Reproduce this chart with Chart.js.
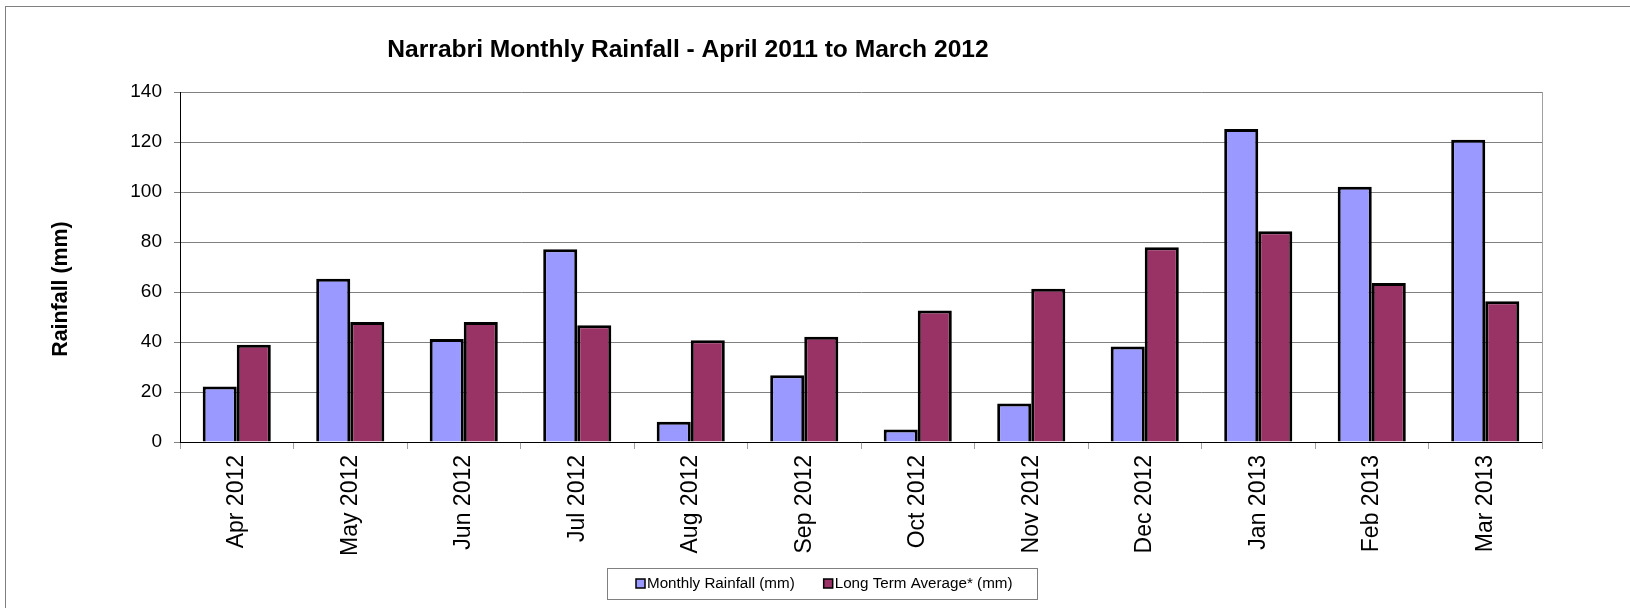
<!DOCTYPE html>
<html>
<head>
<meta charset="utf-8">
<script src="https://cdn.jsdelivr.net/npm/chart.js@4.4.1/dist/chart.umd.min.js"></script>
<style>
  html, body { margin: 0; padding: 0; background: #fff; }
  #wrap { width: 1630px; height: 608px; position: relative; }
</style>
</head>
<body>
<div id="wrap"><canvas id="c" width="1630" height="608"></canvas></div>
<script>
const chartTitle = 'Narrabri Monthly Rainfall - April 2011 to March 2012';
const yAxisTitle = 'Rainfall (mm)';
const categories = ['Apr 2012', 'May 2012', 'Jun 2012', 'Jul 2012', 'Aug 2012', 'Sep 2012',
                    'Oct 2012', 'Nov 2012', 'Dec 2012', 'Jan 2013', 'Feb 2013', 'Mar 2013'];
const monthlyRainfall = [22.2, 65.3, 41.2, 77.1, 8.1, 26.7, 5.0, 15.4, 38.2, 125.2, 102.1, 120.9];
const longTermAverage = [38.9, 48.0, 48.0, 46.7, 40.7, 42.1, 52.6, 61.3, 77.9, 84.3, 63.6, 56.3];
const seriesNames = ['Monthly Rainfall (mm)', 'Long Term Average* (mm)'];
const yMin = 0, yMax = 140, yStep = 20;

const FONT = '"Liberation Sans", Arial, sans-serif';

const decorPlugin = {
  id: 'decor',
  beforeDraw(chart) {
    const ctx = chart.ctx;
    ctx.save();
    ctx.fillStyle = '#fff';
    ctx.fillRect(0, 0, chart.width, chart.height);
    ctx.strokeStyle = '#808080';
    ctx.lineWidth = 1;
    ctx.strokeRect(5.5, 6.5, chart.width + 20, chart.height + 20);
    ctx.restore();
  },
  afterDraw(chart) {
    const ctx = chart.ctx;
    const a = chart.chartArea;
    ctx.save();
    // right plot border
    ctx.strokeStyle = '#a0a0a0';
    ctx.lineWidth = 1;
    ctx.beginPath();
    ctx.moveTo(Math.round(a.right) + 0.5, a.top);
    ctx.lineTo(Math.round(a.right) + 0.5, a.bottom + 7);
    ctx.stroke();
    // title
    ctx.fillStyle = '#000';
    ctx.font = 'bold 24.6px ' + FONT;
    ctx.textAlign = 'center';
    ctx.textBaseline = 'alphabetic';
    ctx.fillText(chartTitle, 688, 57);
    // y axis title
    ctx.save();
    ctx.translate(61, 289);
    ctx.rotate(-Math.PI / 2);
    ctx.font = 'bold 21.4px ' + FONT;
    ctx.textBaseline = 'middle';
    ctx.fillText(yAxisTitle, 0, 0);
    ctx.restore();
    // legend
    ctx.strokeStyle = '#808080';
    ctx.lineWidth = 1;
    ctx.strokeRect(607.5, 568.5, 430, 31);
    ctx.font = '15.2px ' + FONT;
    ctx.textAlign = 'left';
    ctx.textBaseline = 'middle';
    let x = 636;
    const cy = 584;
    chart.data.datasets.forEach((ds) => {
      ctx.fillStyle = ds.backgroundColor;
      ctx.fillRect(x, cy - 5, 9, 9);
      ctx.strokeStyle = '#000';
      ctx.lineWidth = 1.5;
      ctx.strokeRect(x, cy - 5, 9, 9);
      ctx.fillStyle = '#000';
      ctx.fillText(ds.label, x + 11, cy);
      x += 11 + ctx.measureText(ds.label).width + 29;
    });
    ctx.restore();
  }
};

new Chart(document.getElementById('c'), {
  type: 'bar',
  data: {
    labels: categories,
    datasets: [
      { label: seriesNames[0], data: monthlyRainfall, backgroundColor: '#9999FF',
        borderColor: '#000', borderWidth: 3 },
      { label: seriesNames[1], data: longTermAverage, backgroundColor: '#993366',
        borderColor: '#000', borderWidth: 3 }
    ]
  },
  options: {
    responsive: false,
    animation: false,
    devicePixelRatio: 1,
    layout: { padding: { left: 0, right: 88, top: 92, bottom: 0 } },
    plugins: {
      legend: { display: false },
      title: { display: false },
      tooltip: { enabled: false }
    },
    datasets: { bar: { categoryPercentage: 0.6, barPercentage: 1.0 } },
    scales: {
      x: {
        afterFit(s) { s.height = 166; },
        grid: { offset: true, drawOnChartArea: false, drawTicks: true, tickLength: 7, color: '#a0a0a0' },
        border: { display: true, color: '#000', width: 1 },
        ticks: {
          autoSkip: false, minRotation: 90, maxRotation: 90, padding: 6,
          color: '#000', font: { family: FONT, size: 23 }
        }
      },
      y: {
        min: yMin, max: yMax,
        afterFit(s) { s.width = 180; },
        grid: { color: '#808080', lineWidth: 1, drawTicks: true, tickLength: 6 },
        border: { display: true, color: '#000', width: 1 },
        ticks: { stepSize: yStep, padding: 12, color: '#000', font: { family: FONT, size: 19 } }
      }
    }
  },
  plugins: [decorPlugin]
});
</script>
</body>
</html>
